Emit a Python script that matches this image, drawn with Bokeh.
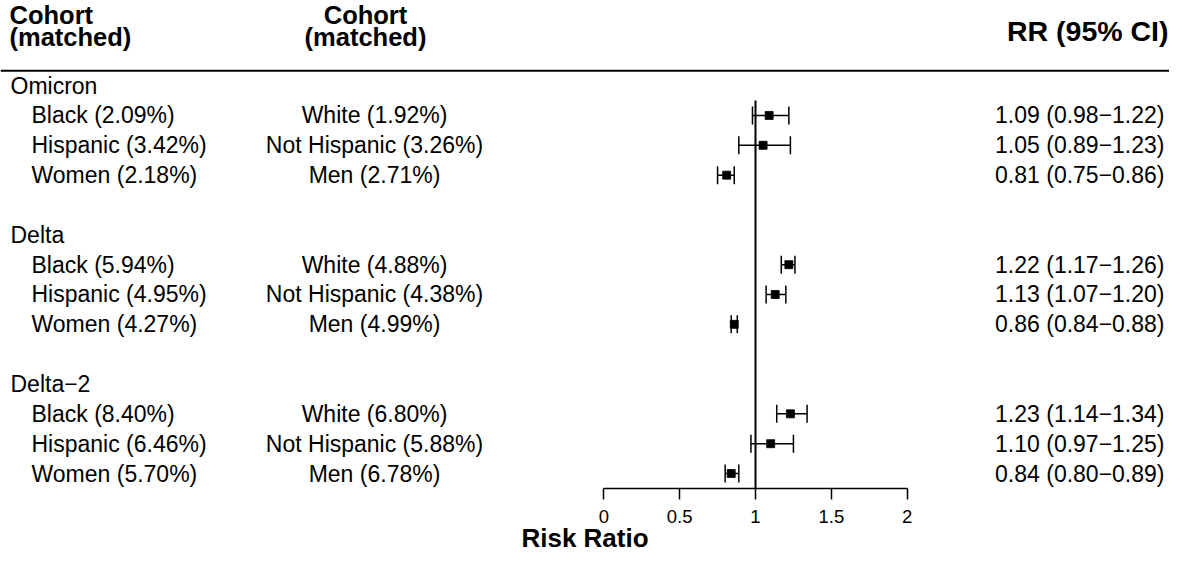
import numpy as np
from bokeh.plotting import figure
from bokeh.models import ColumnDataSource, Range1d, LinearAxis, FixedTicker, Span
from bokeh.core.properties import value
from bokeh.embed import file_html
from bokeh.resources import INLINE

# ---------------- data ----------------
variants = ["Omicron", "Delta", "Delta\u22122"]
exposed = ["Black (2.09%)", "Hispanic (3.42%)", "Women (2.18%)",
           "Black (5.94%)", "Hispanic (4.95%)", "Women (4.27%)",
           "Black (8.40%)", "Hispanic (6.46%)", "Women (5.70%)"]
reference = ["White (1.92%)", "Not Hispanic (3.26%)", "Men (2.71%)",
             "White (4.88%)", "Not Hispanic (4.38%)", "Men (4.99%)",
             "White (6.80%)", "Not Hispanic (5.88%)", "Men (6.78%)"]
rr = [1.09, 1.05, 0.81, 1.22, 1.13, 0.86, 1.23, 1.10, 0.84]
ci_lo = [0.98, 0.89, 0.75, 1.17, 1.07, 0.84, 1.14, 0.97, 0.80]
ci_hi = [1.22, 1.23, 0.86, 1.26, 1.20, 0.88, 1.34, 1.25, 0.89]
tick_values = [0, 0.5, 1, 1.5, 2]
tick_labels = ["0", "0.5", "1", "1.5", "2"]
null_value = 1
header_left = ["Cohort", "(matched)"]
header_right = "RR (95% CI)"
x_title = "Risk Ratio"

# ---------------- layout helpers ----------------
W, H = 1169, 555
SH = 12                          # vertical shift to fit the page
FRAME_H = 501 - SH
AX0, PX = 603.3, 151.7           # pixel of RR=0 in frame, px per RR unit
ROW0, ROWH = 97.3 - SH, 29.9     # pixel of row 1, px per row
def fx(px):
    return (px - AX0) / PX
def fr(py):
    return 1 + (py - ROW0) / ROWH

FONT = value("Liberation Sans")

p = figure(width=W, height=H, output_backend="svg", toolbar_location=None,
           x_range=Range1d(fx(0), fx(W)), y_range=Range1d(fr(FRAME_H), fr(0)),
           x_axis_location=None, y_axis_location=None,
           min_border_left=0, min_border_right=0, min_border_top=0,
           min_border_bottom=H - FRAME_H)
p.outline_line_color = None
p.xgrid.visible = False
p.ygrid.visible = False
p.background_fill_color = "white"
p.border_fill_color = "white"

# rows
group_rows = [1 + 5 * g for g in range(len(variants))]
item_rows = [g + k for g in group_rows for k in (1, 2, 3)]

# header rule
p.add_layout(Span(location=fr(ROW0 - ROWH / 2), dimension="width",
                  line_color="black", line_width=2))

# null line
p.segment(x0=[null_value], y0=[min(item_rows) - 0.5], x1=[null_value], y1=[max(item_rows) + 0.5],
          line_color="black", line_width=2)

# CIs
src = ColumnDataSource(dict(rr=rr, lo=ci_lo, hi=ci_hi, y=item_rows))
p.segment(x0="lo", y0="y", x1="hi", y1="y", source=src, line_color="black", line_width=1.5)
p.scatter(x="lo", y="y", source=src, marker="dash", angle=np.pi / 2, size=18,
          line_color="black", line_width=1.5)
p.scatter(x="hi", y="y", source=src, marker="dash", angle=np.pi / 2, size=18,
          line_color="black", line_width=1.5)
p.scatter(x="rr", y="y", source=src, marker="square", size=8,
          fill_color="black", line_color="black", line_width=0.8)

# texts
TS = "23px"
p.text(x=[fx(10)] * len(variants), y=group_rows, text=variants, text_font=FONT,
       text_font_size=TS, text_baseline="middle", text_align="left", text_color="black")
p.text(x=[fx(31)] * len(exposed), y=item_rows, text=exposed, text_font=FONT,
       text_font_size=TS, text_baseline="middle", text_align="left", text_color="black")
p.text(x=[fx(374)] * len(reference), y=item_rows, text=reference, text_font=FONT,
       text_font_size=TS, text_baseline="middle", text_align="center", text_color="black")
rr_text = [f"{a:.2f} ({b:.2f}\u2212{c:.2f})" for a, b, c in zip(rr, ci_lo, ci_hi)]
p.text(x=[fx(1164)] * len(rr_text), y=item_rows, text=rr_text, text_font=FONT,
       text_font_size=TS, text_baseline="middle", text_align="right", text_color="black")

# headers (page-pixel positions)
HS = "25.5px"
p.text(x=[fx(9), fx(9)], y=[fr(14.5), fr(37.0)], text=header_left, text_font=FONT,
       text_font_size=HS, text_font_style="bold", text_baseline="middle", text_align="left")
p.text(x=[fx(365), fx(365)], y=[fr(14.5), fr(37.0)], text=header_left, text_font=FONT,
       text_font_size=HS, text_font_style="bold", text_baseline="middle", text_align="center")
p.text(x=[fx(1168)], y=[fr(30.5)], text=[header_right], text_font=FONT,
       text_font_size="28.5px", text_font_style="bold", text_baseline="middle", text_align="right")

# x axis
ax = LinearAxis(bounds=(tick_values[0], tick_values[-1]),
                ticker=FixedTicker(ticks=tick_values),
                major_label_overrides={t: l for t, l in zip(tick_values, tick_labels)})
ax.axis_line_width = 1.5
ax.major_tick_line_width = 1.5
ax.major_tick_out = 11
ax.major_tick_in = 0
ax.minor_tick_out = 0
ax.minor_tick_in = 0
ax.major_label_text_font = "Liberation Sans"
ax.major_label_text_font_size = "18.5px"
ax.major_label_text_color = "black"
ax.major_label_standoff = 10
ax.axis_label = x_title
ax.axis_label_text_font = "Liberation Sans"
ax.axis_label_text_font_size = "26px"
ax.axis_label_text_font_style = "bold"
ax.axis_label_text_color = "black"
ax.axis_label_standoff = -3
p.add_layout(ax, "below")

open("out.html", "w").write(file_html(p, INLINE))
